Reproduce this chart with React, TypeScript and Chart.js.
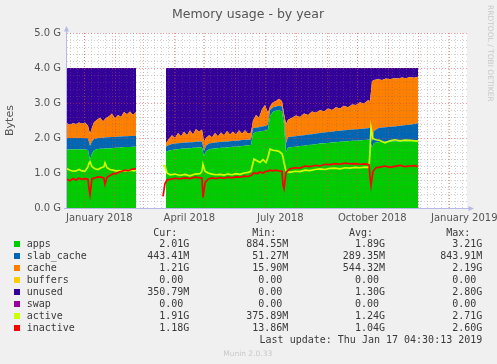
import React, { useEffect, useRef } from "react";
import { Chart, registerables } from "chart.js";

Chart.register(...registerables);

// ---------------- data (days since start of the 400-day window, values in GiB) ----------------
const areaDays = [
  0, 3, 6, 9, 12, 15, 18, 21, 23, 25,
  27, 30, 33, 36, 39, 42, 45, 48, 51, 54,
  57, 60, 63, 66, 69, 84, 99, 102, 105, 108,
  111, 114, 117, 120, 123, 126, 129, 132, 135, 137,
  139, 142, 145, 148, 151, 154, 157, 160, 163, 166,
  169, 172, 175, 178, 181, 184, 186, 189, 192, 195,
  198, 201, 203, 206, 209, 212, 215, 217, 219, 221,
  225, 229, 233, 237, 241, 245, 249, 253, 257, 261,
  265, 269, 273, 277, 281, 285, 289, 293, 297, 301,
  303, 305, 307, 311, 315, 319, 323, 327, 331, 335,
  339, 343, 347, 351,
];

const apps = [
  1.67, 1.67, 1.67, 1.68, 1.67, 1.67, 1.67, 1.66, 1.38, 1.55,
  1.65, 1.68, 1.69, 1.69, 1.70, 1.70, 1.71, 1.72, 1.72, 1.73,
  1.74, 1.74, 1.74, 1.75, 1.75, null, 1.60, 1.64, 1.66, 1.67,
  1.68, 1.69, 1.70, 1.70, 1.71, 1.72, 1.72, 1.73, 1.73, 1.48,
  1.62, 1.67, 1.69, 1.70, 1.71, 1.72, 1.72, 1.73, 1.74, 1.75,
  1.75, 1.76, 1.77, 1.78, 1.79, 1.80, 2.12, 2.17, 2.18, 2.20,
  2.21, 2.24, 2.62, 2.75, 2.78, 2.80, 2.76, 2.40, 1.60, 1.72,
  1.74, 1.75, 1.77, 1.78, 1.80, 1.81, 1.82, 1.84, 1.85, 1.86,
  1.87, 1.88, 1.89, 1.90, 1.91, 1.92, 1.92, 1.93, 1.94, 1.95,
  1.95, 1.72, 1.86, 1.88, 1.89, 1.89, 1.90, 1.90, 1.90, 1.91,
  1.91, 1.91, 1.92, 1.92,
];

const slabCache = [
  0.33, 0.33, 0.33, 0.33, 0.33, 0.33, 0.33, 0.33, 0.40, 0.35,
  0.32, 0.31, 0.32, 0.32, 0.32, 0.32, 0.32, 0.31, 0.32, 0.31,
  0.31, 0.31, 0.32, 0.31, 0.32, null, 0.15, 0.16, 0.17, 0.17,
  0.17, 0.17, 0.17, 0.17, 0.17, 0.16, 0.17, 0.17, 0.17, 0.14,
  0.16, 0.17, 0.17, 0.17, 0.17, 0.17, 0.17, 0.17, 0.17, 0.17,
  0.17, 0.17, 0.17, 0.17, 0.16, 0.16, 0.16, 0.13, 0.13, 0.13,
  0.13, 0.14, 0.18, 0.13, 0.12, 0.12, 0.14, 0.15, 0.25, 0.30,
  0.30, 0.30, 0.30, 0.30, 0.30, 0.30, 0.31, 0.30, 0.31, 0.31,
  0.31, 0.32, 0.32, 0.32, 0.32, 0.32, 0.33, 0.33, 0.33, 0.33,
  0.34, 0.18, 0.34, 0.40, 0.41, 0.42, 0.42, 0.43, 0.44, 0.45,
  0.46, 0.47, 0.48, 0.50,
];

const cache = [
  0.42, 0.38, 0.42, 0.39, 0.44, 0.41, 0.44, 0.36, 0.34, 0.40,
  0.48, 0.53, 0.57, 0.47, 0.55, 0.60, 0.67, 0.53, 0.62, 0.56,
  0.69, 0.63, 0.70, 0.60, 0.67, null, 0.10, 0.18, 0.25, 0.16,
  0.29, 0.19, 0.31, 0.21, 0.34, 0.22, 0.37, 0.28, 0.34, 0.28,
  0.22, 0.24, 0.16, 0.27, 0.17, 0.27, 0.19, 0.30, 0.19, 0.26,
  0.18, 0.29, 0.18, 0.27, 0.17, 0.20, 0.22, 0.36, 0.27, 0.49,
  0.60, 0.34, 0.10, 0.14, 0.16, 0.20, 0.15, 0.15, 0.55, 0.50,
  0.54, 0.59, 0.53, 0.62, 0.56, 0.65, 0.59, 0.66, 0.60, 0.67,
  0.62, 0.68, 0.63, 0.70, 0.65, 0.72, 0.69, 0.76, 0.71, 0.80,
  0.77, 1.72, 1.46, 1.40, 1.36, 1.39, 1.36, 1.38, 1.36, 1.37,
  1.34, 1.36, 1.32, 1.33,
];

const unused = [
  1.58, 1.62, 1.58, 1.60, 1.56, 1.59, 1.56, 1.65, 1.88, 1.70,
  1.55, 1.48, 1.42, 1.52, 1.43, 1.38, 1.30, 1.44, 1.34, 1.40,
  1.26, 1.32, 1.24, 1.34, 1.26, null, 2.15, 2.02, 1.92, 2.00,
  1.86, 1.95, 1.82, 1.92, 1.78, 1.90, 1.74, 1.82, 1.76, 2.10,
  2.00, 1.92, 1.98, 1.86, 1.95, 1.84, 1.92, 1.80, 1.90, 1.82,
  1.90, 1.78, 1.88, 1.78, 1.88, 1.84, 1.50, 1.34, 1.42, 1.18,
  1.06, 1.28, 1.10, 0.98, 0.94, 0.88, 0.95, 1.30, 1.60, 1.48,
  1.42, 1.36, 1.40, 1.30, 1.34, 1.24, 1.28, 1.20, 1.24, 1.16,
  1.20, 1.12, 1.16, 1.08, 1.12, 1.04, 1.06, 0.98, 1.02, 0.92,
  0.94, 0.38, 0.34, 0.32, 0.34, 0.30, 0.32, 0.29, 0.30, 0.27,
  0.29, 0.26, 0.28, 0.25,
];

const lineDays = [
  0, 3, 6, 9, 12, 15, 18, 21, 22, 23,
  25, 28, 31, 34, 37, 38, 40, 43, 46, 49,
  52, 55, 58, 61, 64, 67, 69, 83, 96, 98,
  100, 103, 108, 113, 118, 123, 128, 133, 135, 136,
  138, 141, 145, 149, 153, 157, 161, 165, 169, 173,
  177, 181, 184, 187, 190, 193, 196, 199, 201, 203,
  206, 209, 212, 215, 216, 217, 219, 223, 228, 233,
  238, 243, 248, 253, 258, 263, 268, 273, 278, 283,
  288, 293, 298, 302, 303, 304, 306, 309, 313, 318,
  323, 328, 333, 338, 343, 348, 351,
];

const active = [
  1.12, 1.08, 1.05, 1.06, 1.10, 1.06, 1.05, 1.18, 1.28, 1.32,
  1.18, 1.12, 1.10, 1.15, 1.18, 1.29, 1.15, 1.10, 1.08, 1.06,
  1.07, 1.05, 1.07, 1.06, 1.08, 1.06, 1.08, null, 1.22, 1.20,
  1.00, 0.95, 0.97, 0.93, 0.96, 0.92, 0.97, 0.98, 1.05, 1.25,
  1.05, 1.00, 0.97, 0.95, 0.96, 0.94, 0.97, 0.95, 0.98, 0.96,
  1.00, 1.02, 1.05, 1.40, 1.35, 1.30, 1.38, 1.30, 1.45, 1.68,
  1.65, 1.64, 1.62, 1.55, 1.45, 1.30, 1.05, 1.02, 1.05, 1.04,
  1.08, 1.07, 1.10, 1.12, 1.10, 1.13, 1.14, 1.12, 1.15, 1.14,
  1.16, 1.15, 1.17, 1.16, 1.60, 2.30, 1.98, 1.95, 1.93, 1.86,
  1.92, 1.95, 1.92, 1.94, 1.93, 1.92, 1.91,
];

const inactive = [
  0.82, 0.78, 0.84, 0.80, 0.85, 0.82, 0.84, 0.82, 0.55, 0.38,
  0.84, 0.86, 0.89, 0.88, 0.85, 0.68, 0.88, 0.93, 0.98, 0.98,
  1.03, 1.05, 1.08, 1.06, 1.10, 1.12, 1.12, null, 0.33, 0.70,
  0.80, 0.82, 0.85, 0.83, 0.86, 0.84, 0.88, 0.86, 0.85, 0.30,
  0.72, 0.82, 0.86, 0.84, 0.87, 0.85, 0.88, 0.86, 0.89, 0.88,
  0.91, 0.90, 0.93, 1.00, 0.98, 1.03, 1.00, 1.05, 1.05, 1.08,
  1.06, 1.08, 1.06, 1.05, 0.65, 0.55, 1.02, 1.12, 1.15, 1.14,
  1.20, 1.18, 1.22, 1.20, 1.25, 1.24, 1.27, 1.25, 1.28, 1.26,
  1.27, 1.25, 1.26, 1.24, 0.90, 0.65, 1.05, 1.15, 1.17, 1.20,
  1.16, 1.19, 1.22, 1.18, 1.20, 1.21, 1.18,
];

const yTickValues = [0, 1, 2, 3, 4, 5];
const yMinorValues = [0.2, 0.4, 0.6, 0.8, 1.2, 1.4, 1.6, 1.8, 2.2, 2.4, 2.6, 2.8, 3.2, 3.4, 3.6, 3.8, 4.2, 4.4, 4.6, 4.8];
const xTickLabels = ["January 2018", "April 2018", "July 2018", "October 2018", "January 2019"];
const xTickMonths: [number, number][] = [[2018, 0], [2018, 3], [2018, 6], [2018, 9], [2019, 0]];

const legendNames = ["apps", "slab_cache", "cache", "buffers", "unused", "swap", "active", "inactive"];
const legendColors = ["#00CC00", "#0066B3", "#FF8000", "#FFCC00", "#330099", "#990099", "#CCFF00", "#FF0000"];
const curVals = ["2.01G", "443.41M", "1.21G", "0.00", "350.79M", "0.00", "1.91G", "1.18G"];
const minVals = ["884.55M", "51.27M", "15.90M", "0.00", "0.00", "0.00", "375.89M", "13.86M"];
const avgVals = ["1.89G", "289.35M", "544.32M", "0.00", "1.30G", "0.00", "1.24G", "1.04G"];
const maxVals = ["3.21G", "843.91M", "2.19G", "0.00", "2.80G", "0.00", "2.71G", "2.60G"];
const legendHeaders = ["Cur:", "Min:", "Avg:", "Max:"];

const TITLE = "Memory usage - by year";
const Y_TITLE = "Bytes";
const LAST_UPDATE = "Last update: Thu Jan 17 04:30:13 2019";
const WATERMARK = "RRDTOOL / TOBI OETIKER";
const FOOTER = "Munin 2.0.33";

// ---------------- time axis helpers ----------------
const DAY_MS = 86400000;
const RANGE_START = Date.UTC(2017, 11, 14, 17);
const RANGE_DAYS = 400;
const toDay = (ms: number) => (ms - RANGE_START) / DAY_MS;

const labelDays = xTickMonths.map(([y, m]) => toDay(Date.UTC(y, m, 1)) + 15);
const monthDays: number[] = [];
for (let m = 0; m <= 12; m++) monthDays.push(toDay(Date.UTC(2018, m, 1)));
const weekDays: number[] = [];
for (let t = Date.UTC(2017, 11, 18); toDay(t) < RANGE_DAYS; t += 7 * DAY_MS) weekDays.push(toDay(t));

const FONT = '"DejaVu Sans", sans-serif';
const MONO = '"DejaVu Sans Mono", monospace';
const TEXT = "#555555";
const MINOR = "rgba(110,110,110,0.33)";
const MAJOR = "rgba(235,60,60,0.5)";
const AXIS = "#B8B8E8";

const pts = (xs: number[], ys: (number | null)[]) => xs.map((x, i) => ({ x, y: ys[i] }));

function drawGrid(chart: any) {
  const { ctx, chartArea } = chart;
  const { left, right, top, bottom } = chartArea;
  const xs = chart.scales.x;
  const ys = chart.scales.y;
  ctx.save();
  ctx.beginPath();
  ctx.rect(left, top - 1, right - left, bottom - top + 1);
  ctx.clip();
  ctx.lineWidth = 1;
  ctx.setLineDash([1, 2]);
  const v = (d: number) => {
    const px = Math.round(xs.getPixelForValue(d)) + 0.5;
    ctx.moveTo(px, top);
    ctx.lineTo(px, bottom);
  };
  const h = (val: number) => {
    const py = Math.round(ys.getPixelForValue(val)) + 0.5;
    ctx.moveTo(left, py);
    ctx.lineTo(right, py);
  };
  ctx.strokeStyle = MINOR;
  ctx.beginPath();
  weekDays.forEach(v);
  yMinorValues.forEach(h);
  ctx.stroke();
  ctx.strokeStyle = MAJOR;
  ctx.beginPath();
  monthDays.forEach(v);
  yTickValues.filter((t) => t > 0).forEach(h);
  ctx.stroke();
  ctx.restore();
}

const decor = {
  id: "decor",
  beforeDraw(chart: any) {
    const { ctx, chartArea } = chart;
    ctx.save();
    ctx.fillStyle = "#FFFFFF";
    ctx.fillRect(chartArea.left, chartArea.top, chartArea.right - chartArea.left, chartArea.bottom - chartArea.top);
    ctx.restore();
  },
  afterDatasetDraw(chart: any, args: any) {
    if (args.index === 2) drawGrid(chart);
  },
  afterDraw(chart: any) {
    const { ctx, chartArea } = chart;
    const { left, right, top, bottom } = chartArea;
    ctx.save();
    ctx.strokeStyle = AXIS;
    ctx.fillStyle = AXIS;
    ctx.lineWidth = 1;
    ctx.setLineDash([]);
    ctx.beginPath();
    ctx.moveTo(left - 0.5, bottom + 1);
    ctx.lineTo(left - 0.5, top - 4);
    ctx.moveTo(left - 3, bottom + 0.5);
    ctx.lineTo(right + 4, bottom + 0.5);
    ctx.stroke();
    ctx.beginPath();
    ctx.moveTo(left - 0.5, top - 7);
    ctx.lineTo(left - 3, top - 1.5);
    ctx.lineTo(left + 2, top - 1.5);
    ctx.closePath();
    ctx.fill();
    ctx.beginPath();
    ctx.moveTo(right + 7, bottom + 0.5);
    ctx.lineTo(right + 1.5, bottom - 2);
    ctx.lineTo(right + 1.5, bottom + 3);
    ctx.closePath();
    ctx.fill();
    ctx.fillStyle = TEXT;
    ctx.font = `12.5px ${FONT}`;
    ctx.textAlign = "center";
    ctx.textBaseline = "alphabetic";
    ctx.fillText(TITLE, 248, 17.5);
    ctx.translate(490, 5);
    ctx.rotate(Math.PI / 2);
    ctx.font = `7.5px ${FONT}`;
    ctx.fillStyle = "#C8C8C8";
    ctx.textAlign = "left";
    ctx.textBaseline = "middle";
    ctx.fillText(WATERMARK, 0, 0);
    ctx.restore();
  },
};

const valueEdges = [189.3, 288.3, 385, 482.3];
const padUnit = (s: string) => (/[A-Za-z]$/.test(s) ? s : s + " ");

export default function App() {
  const canvasRef = useRef<HTMLCanvasElement>(null);

  useEffect(() => {
    const canvas = canvasRef.current;
    if (!canvas) return;
    const area = (label: string, data: (number | null)[], color: string, fill: any) => ({
      label,
      data: pts(areaDays, data),
      backgroundColor: color,
      borderColor: "rgba(0,0,0,0)",
      borderWidth: 0,
      pointRadius: 0,
      fill,
      tension: 0,
      spanGaps: false,
      stack: "mem",
    });
    const line = (label: string, data: (number | null)[], color: string) => ({
      label,
      data: pts(lineDays, data),
      borderColor: color,
      backgroundColor: color,
      borderWidth: 1.7,
      pointRadius: 0,
      fill: false,
      tension: 0,
      spanGaps: false,
      stack: label,
    });
    const chart = new Chart(canvas, {
      type: "line",
      data: {
        datasets: [
          line("inactive", inactive, "#FF0000"),
          line("active", active, "#CCFF00"),
          area("apps", apps, "#00CC00", "origin"),
          area("slab_cache", slabCache, "#0066B3", "-1"),
          area("cache", cache, "#FF8000", "-1"),
          area("unused", unused, "#330099", "-1"),
        ] as any,
      },
      options: {
        animation: false,
        responsive: false,
        devicePixelRatio: 1,
        events: [],
        layout: { padding: { top: 33, right: 30, bottom: 136, left: 0 } },
        plugins: { legend: { display: false }, tooltip: { enabled: false }, title: { display: false } },
        scales: {
          x: {
            type: "linear",
            min: 0,
            max: RANGE_DAYS,
            grid: { display: false, drawTicks: false },
            border: { display: false },
            afterBuildTicks: (scale: any) => {
              scale.ticks = labelDays.map((value) => ({ value }));
            },
            afterFit: (scale: any) => {
              scale.height = 20;
              scale.paddingLeft = 0;
              scale.paddingRight = 0;
            },
            ticks: {
              autoSkip: false,
              maxRotation: 0,
              minRotation: 0,
              padding: 4,
              color: TEXT,
              font: { family: FONT, size: 10 },
              callback: (value: any) => {
                const i = labelDays.findIndex((d) => Math.abs(d - Number(value)) < 1e-6);
                return i >= 0 ? xTickLabels[i] : "";
              },
            },
          },
          y: {
            type: "linear",
            stacked: true,
            min: 0,
            max: 5,
            grid: { display: false, drawTicks: false },
            border: { display: false },
            afterBuildTicks: (scale: any) => {
              scale.ticks = yTickValues.map((value) => ({ value }));
            },
            afterFit: (scale: any) => {
              scale.width = 67;
              scale.paddingTop = 0;
              scale.paddingBottom = 0;
            },
            ticks: {
              autoSkip: false,
              padding: 6,
              color: TEXT,
              font: { family: FONT, size: 10 },
              callback: (value: any) => Number(value).toFixed(1) + " G",
            },
            title: {
              display: true,
              text: Y_TITLE,
              color: TEXT,
              font: { family: FONT, size: 11 },
              padding: { top: 4, bottom: 0 },
            },
          },
        },
      } as any,
      plugins: [decor],
    });
    return () => chart.destroy();
  }, []);

  const rowTop = (i: number) => 238.3 + 12 * i;
  const cell = (key: string, edge: number, top: number, text: string, align: "left" | "right" = "left") => (
    <div
      key={key}
      style={{
        position: "absolute",
        left: align === "right" ? edge - 300 : edge,
        width: align === "right" ? 300 : undefined,
        top,
        height: 12,
        lineHeight: "12px",
        textAlign: align,
        whiteSpace: "pre",
        font: `10px ${MONO}`,
        color: "#3A3A3A",
      }}
    >
      {text}
    </div>
  );

  const columns = [curVals, minVals, avgVals, maxVals];

  return (
    <div
      style={{
        position: "fixed",
        left: 0,
        top: 0,
        width: 497,
        height: 364,
        background: "#F0F0F0",
        overflow: "hidden",
      }}
    >
      <canvas ref={canvasRef} width={497} height={364} style={{ position: "absolute", left: 0, top: 0 }} />
      {legendHeaders.map((h, c) => cell(`h${c}`, valueEdges[c], 226.7, h + "  ", "right"))}
      {legendNames.map((name, i) => (
        <React.Fragment key={name}>
          <div
            style={{
              position: "absolute",
              left: 14,
              top: rowTop(i) + 3,
              width: 6,
              height: 6,
              background: legendColors[i],
            }}
          />
          {cell(`n${i}`, 26.7, rowTop(i), name)}
          {columns.map((col, c) => cell(`v${i}-${c}`, valueEdges[c], rowTop(i), padUnit(col[i]), "right"))}
        </React.Fragment>
      ))}
      {cell("upd", 482.3, 334, LAST_UPDATE, "right")}
      <div
        style={{
          position: "absolute",
          left: 147.7,
          width: 200,
          top: 348.5,
          textAlign: "center",
          font: `7.5px ${FONT}`,
          lineHeight: "9px",
          color: "#C8C8C8",
        }}
      >
        {FOOTER}
      </div>
    </div>
  );
}
